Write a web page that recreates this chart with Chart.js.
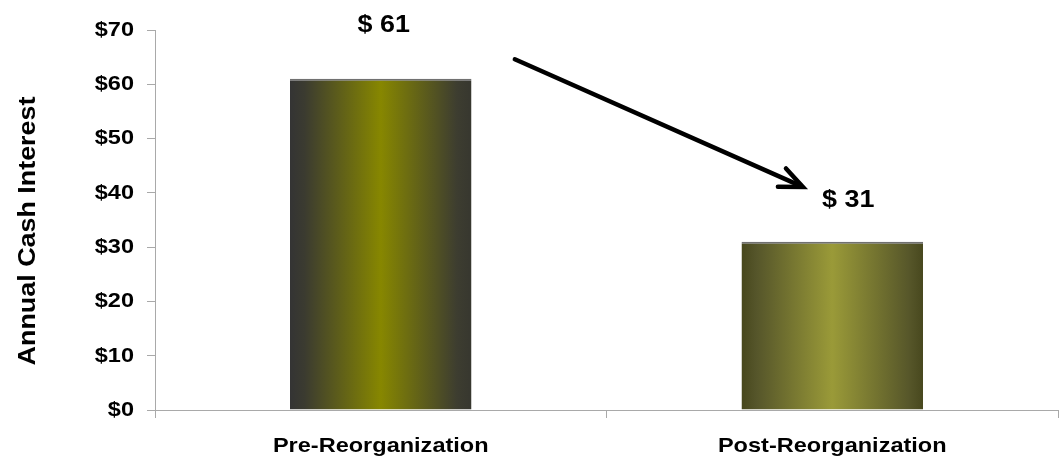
<!DOCTYPE html>
<html>
<head>
<meta charset="utf-8">
<script src="https://cdn.jsdelivr.net/npm/chart.js@4/dist/chart.umd.min.js"></script>
<style>
  html, body { margin: 0; padding: 0; background: #ffffff; }
  canvas { display: block; }
</style>
</head>
<body>
<canvas id="chart" width="1059" height="459"></canvas>
<script>
// ---- data ----
const categories = ['Pre-Reorganization', 'Post-Reorganization'];
const interest = [61, 31];
const valueLabels = ['$ 61', '$ 31'];
const yTickValues = [0, 10, 20, 30, 40, 50, 60, 70];
const yTickLabels = ['$0', '$10', '$20', '$30', '$40', '$50', '$60', '$70'];
const axisTitle = 'Annual Cash Interest';
// arrow showing the drop, in [category index, value] units
const arrowFrom = [0.297, 64.6];
const arrowTo = [0.935, 41.1];

// ---- styling ----
const FONT = "'Liberation Sans', Arial, Helvetica, sans-serif";
const AXIS_GREY = '#a9a9a9';
const TEXT_STRETCH = 1.12;
const BAR_PERCENT = 0.402;
const barShades = [
  ['#343434', '#3b3b30', '#878700', '#3d3d30', '#37372f'],
  ['#47471c', '#55552a', '#9a9a38', '#57572a', '#48481e']
];
const shadeStops = [0, 0.08, 0.5, 0.92, 1];
const labelOffsets = [[3, 47], [16, 35]]; // [dx, dy above bar top]

const canvas = document.getElementById('chart');
const ctx = canvas.getContext('2d');

// house lettering is set a touch wide: stretch every text run about its anchor
const rawFillText = ctx.fillText;
const rawMeasureText = ctx.measureText;
ctx.fillText = function (text, x, y, maxWidth) {
  this.save();
  this.translate(x, y);
  this.scale(TEXT_STRETCH, 1);
  if (maxWidth !== undefined) rawFillText.call(this, text, 0, 0, maxWidth / TEXT_STRETCH);
  else rawFillText.call(this, text, 0, 0);
  this.restore();
};
ctx.measureText = function (text) {
  const m = rawMeasureText.call(this, text);
  return {
    width: m.width * TEXT_STRETCH,
    actualBoundingBoxAscent: m.actualBoundingBoxAscent,
    actualBoundingBoxDescent: m.actualBoundingBoxDescent,
    actualBoundingBoxLeft: m.actualBoundingBoxLeft * TEXT_STRETCH,
    actualBoundingBoxRight: m.actualBoundingBoxRight * TEXT_STRETCH,
    fontBoundingBoxAscent: m.fontBoundingBoxAscent,
    fontBoundingBoxDescent: m.fontBoundingBoxDescent
  };
};

// cylinder-like horizontal shading, one gradient per bar across its own width
function barShade(context) {
  const chart = context.chart;
  const xs = chart.scales.x;
  const i = context.dataIndex;
  if (!xs || i === undefined || !isFinite(xs.width) || xs.width <= 0) return barShades[0][2];
  const cx = xs.getPixelForValue(i);
  const half = (xs.width / categories.length) * BAR_PERCENT / 2;
  const g = chart.ctx.createLinearGradient(cx - half, 0, cx + half, 0);
  barShades[i].forEach((col, k) => g.addColorStop(shadeStops[k], col));
  return g;
}

// value labels, axis title and the downward arrow
const annotations = {
  id: 'annotations',
  afterDatasetsDraw(chart) {
    const c = chart.ctx;
    const xs = chart.scales.x;
    const ys = chart.scales.y;

    c.save();
    c.fillStyle = '#000000';
    c.font = 'bold 24px ' + FONT;
    c.textAlign = 'center';
    c.textBaseline = 'alphabetic';
    chart.getDatasetMeta(0).data.forEach((bar, i) => {
      const { x, y } = bar.getProps(['x', 'y'], true);
      c.fillText(valueLabels[i], x + labelOffsets[i][0], y - labelOffsets[i][1]);
    });

    // rotated axis title
    c.save();
    c.font = 'bold 24px ' + FONT;
    c.translate(35, 231);
    c.rotate(-Math.PI / 2);
    c.textAlign = 'center';
    c.fillText(axisTitle, 0, 0);
    c.restore();

    // arrow
    const x0 = xs.getPixelForValue(arrowFrom[0]);
    const y0 = ys.getPixelForValue(arrowFrom[1]);
    const x1 = xs.getPixelForValue(arrowTo[0]);
    const y1 = ys.getPixelForValue(arrowTo[1]);
    const ang = Math.atan2(y1 - y0, x1 - x0);
    const head = 25;
    const spread = 0.41;
    c.strokeStyle = '#000000';
    c.lineWidth = 4.5;
    c.lineCap = 'round';
    c.lineJoin = 'miter';
    c.beginPath();
    c.moveTo(x0, y0);
    c.lineTo(x1 - Math.cos(ang) * 2, y1 - Math.sin(ang) * 2);
    c.stroke();
    c.beginPath();
    c.moveTo(x1 - head * Math.cos(ang - spread), y1 - head * Math.sin(ang - spread));
    c.lineTo(x1, y1);
    c.lineTo(x1 - head * Math.cos(ang + spread), y1 - head * Math.sin(ang + spread));
    c.stroke();
    c.restore();
  }
};

new Chart(ctx, {
  type: 'bar',
  data: {
    labels: categories,
    datasets: [{
      data: interest,
      backgroundColor: barShade,
      borderColor: '#707070',
      borderWidth: { top: 2, left: 0, right: 0, bottom: 0 },
      borderSkipped: 'bottom',
      categoryPercentage: 1,
      barPercentage: BAR_PERCENT
    }]
  },
  options: {
    responsive: false,
    animation: false,
    devicePixelRatio: 1,
    layout: { padding: { top: 30, right: 1, left: 0, bottom: 0 } },
    plugins: {
      legend: { display: false },
      tooltip: { enabled: false },
      title: { display: false }
    },
    scales: {
      x: {
        offset: true,
        grid: {
          offset: true,
          drawOnChartArea: false,
          color: AXIS_GREY,
          tickLength: 8,
          tickColor: AXIS_GREY
        },
        border: { color: AXIS_GREY, width: 1 },
        ticks: {
          color: '#000000',
          font: { family: FONT, size: 21, weight: 'bold' },
          padding: 16,
          maxRotation: 0,
          autoSkip: false
        },
        afterFit(scale) { scale.height = 49; }
      },
      y: {
        min: 0,
        max: 70,
        afterBuildTicks(scale) { scale.ticks = yTickValues.map(v => ({ value: v })); },
        grid: {
          drawOnChartArea: false,
          color: AXIS_GREY,
          tickLength: 8,
          tickColor: AXIS_GREY
        },
        border: { color: AXIS_GREY, width: 1 },
        ticks: {
          color: '#000000',
          font: { family: FONT, size: 21, weight: 'bold' },
          padding: 13,
          callback: (value) => yTickLabels[yTickValues.indexOf(value)]
        },
        afterFit(scale) { scale.width = 155; }
      }
    }
  },
  plugins: [annotations]
});
</script>
</body>
</html>
